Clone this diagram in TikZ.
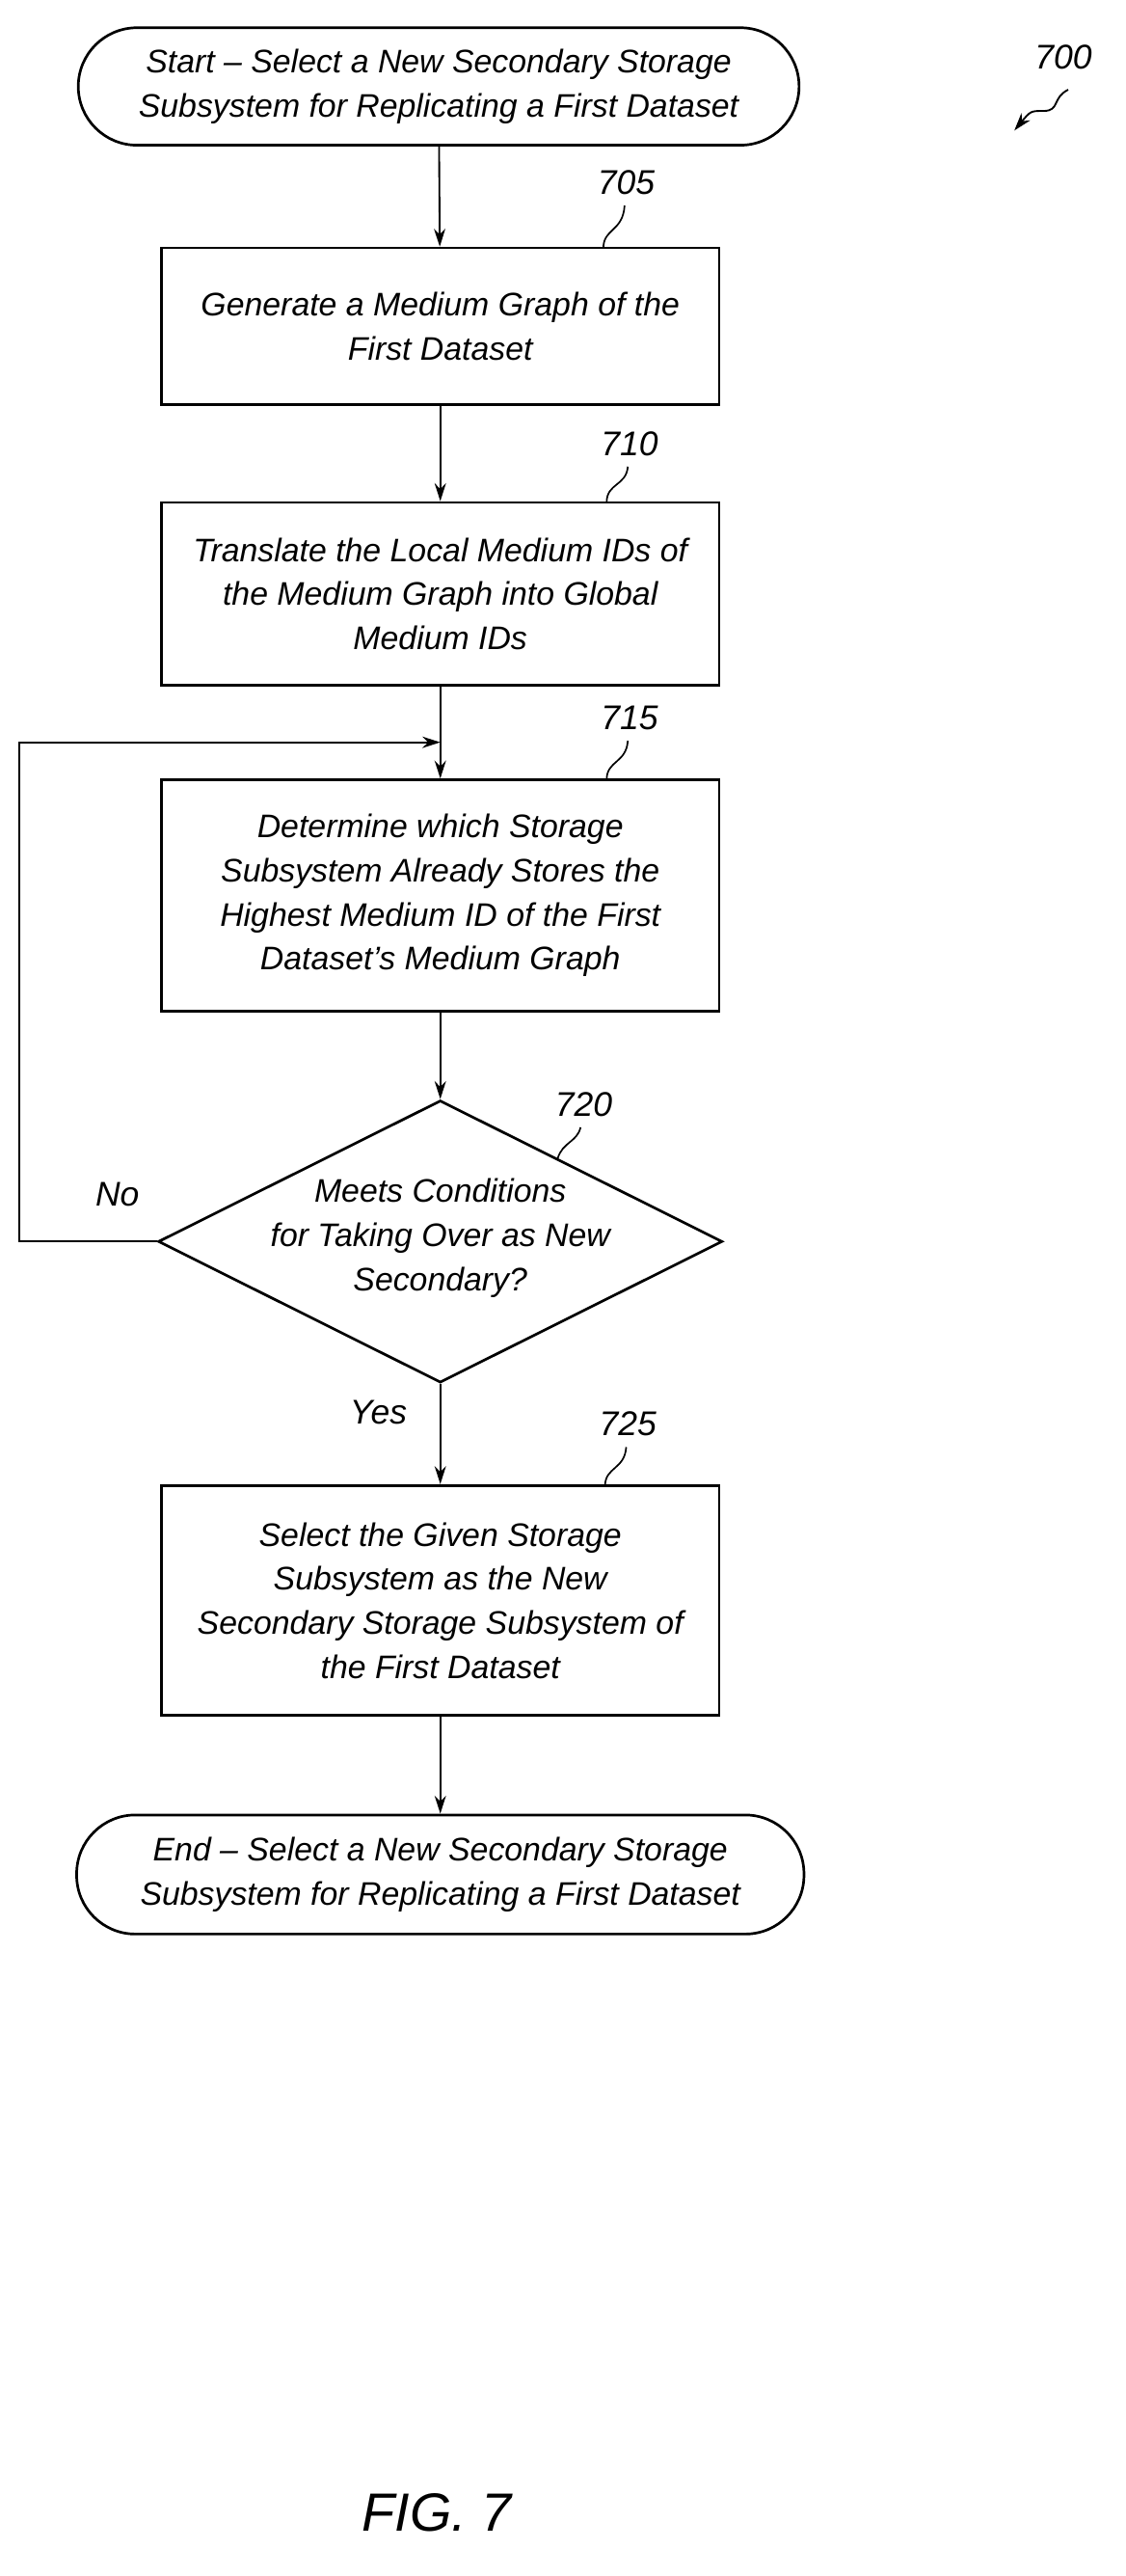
\documentclass[tikz,border=0pt]{standalone}
\usepackage{fontspec}
\setmainfont{Liberation Sans}
\usetikzlibrary{shapes.geometric,arrows.meta}
\begin{document}
\begin{tikzpicture}[x=1pt,y=-1pt,
  txt/.style={font=\itshape\fontsize{20}{27}\selectfont,align=center},
  box/.style={draw,line width=1.6pt,txt,minimum width=342pt,inner sep=2pt},
  term/.style={draw,line width=1.6pt,txt,rounded corners=36pt,minimum height=72pt},
  lab/.style={font=\itshape\fontsize{21}{24}\selectfont},
  arr/.style={line width=1.1pt,-{Stealth[length=11pt,width=7pt]}}]
\useasboundingbox (0,0) rectangle (690,1579);
\node[term,minimum width=442pt] (s) at (269,53) {Start -- Select a New Secondary Storage\\Subsystem for Replicating a First Dataset};
\node[box,minimum height=96pt] (b705) at (270,200) {Generate a Medium Graph of the\\First Dataset};
\node[box,minimum height=112pt] (b710) at (270,364) {Translate the Local Medium IDs of\\the Medium Graph into Global\\Medium IDs};
\node[box,minimum height=142pt] (b715) at (270,549) {Determine which Storage\\Subsystem Already Stores the\\Highest Medium ID of the First\\Dataset's Medium Graph};
\node[draw,line width=1.6pt,diamond,minimum width=346pt,minimum height=173pt,inner sep=0pt] (d) at (270,761) {};
\node[txt] (dt) at (270,759) {Meets Conditions\\for Taking Over as New\\Secondary?};
\node[box,minimum height=141pt] (b725) at (270,981) {Select the Given Storage\\Subsystem as the New\\Secondary Storage Subsystem of\\the First Dataset};
\node[term,minimum width=446pt,minimum height=73pt] (e) at (270,1149) {End -- Select a New Secondary Storage\\Subsystem for Replicating a First Dataset};
\draw[arr] (s) -- (b705);
\draw[arr] (b705) -- (b710);
\draw[arr] (b710) -- (b715);
\draw[arr] (b715) -- (d);
\draw[arr] (d) -- (b725);
\draw[arr] (b725) -- (e);
\coordinate (lp) at (270,455);
\draw[arr] (d.west) -- (12,761) -- (12,455) -- (lp);
\node[lab] (no) at (72,732) {No};
\node[lab] (yes) at (232,866) {Yes};
\node[lab] (l700) at (652,35) {700};
\coordinate (a700) at (622,80);
\draw[line width=1.1pt,-{Stealth[length=11pt,width=7pt]}] (655,55) .. controls (645,60) and (650,68) .. (640,68) .. controls (632,68) .. (a700);
\node[lab] (l705) at (384,112) {705};
\node[lab] (l710) at (386,272) {710};
\node[lab] (l715) at (386,440) {715};
\node[lab] (l720) at (358,677) {720};
\node[lab] (l725) at (385,873) {725};
\draw[line width=1pt] (370,152) .. controls (370,140) and (382,142) .. (383,126);
\draw[line width=1pt] (372,308) .. controls (372,296) and (384,298) .. (385,286);
\draw[line width=1pt] (372,478) .. controls (372,466) and (384,468) .. (385,454);
\draw[line width=1pt] (342,710) .. controls (345,700) and (354,700) .. (356,691);
\draw[line width=1pt] (371,911) .. controls (371,899) and (383,901) .. (384,887);
\node[font=\itshape\fontsize{33}{36}\selectfont] (fig) at (268,1540) {FIG. 7};
\end{tikzpicture}
\end{document}
